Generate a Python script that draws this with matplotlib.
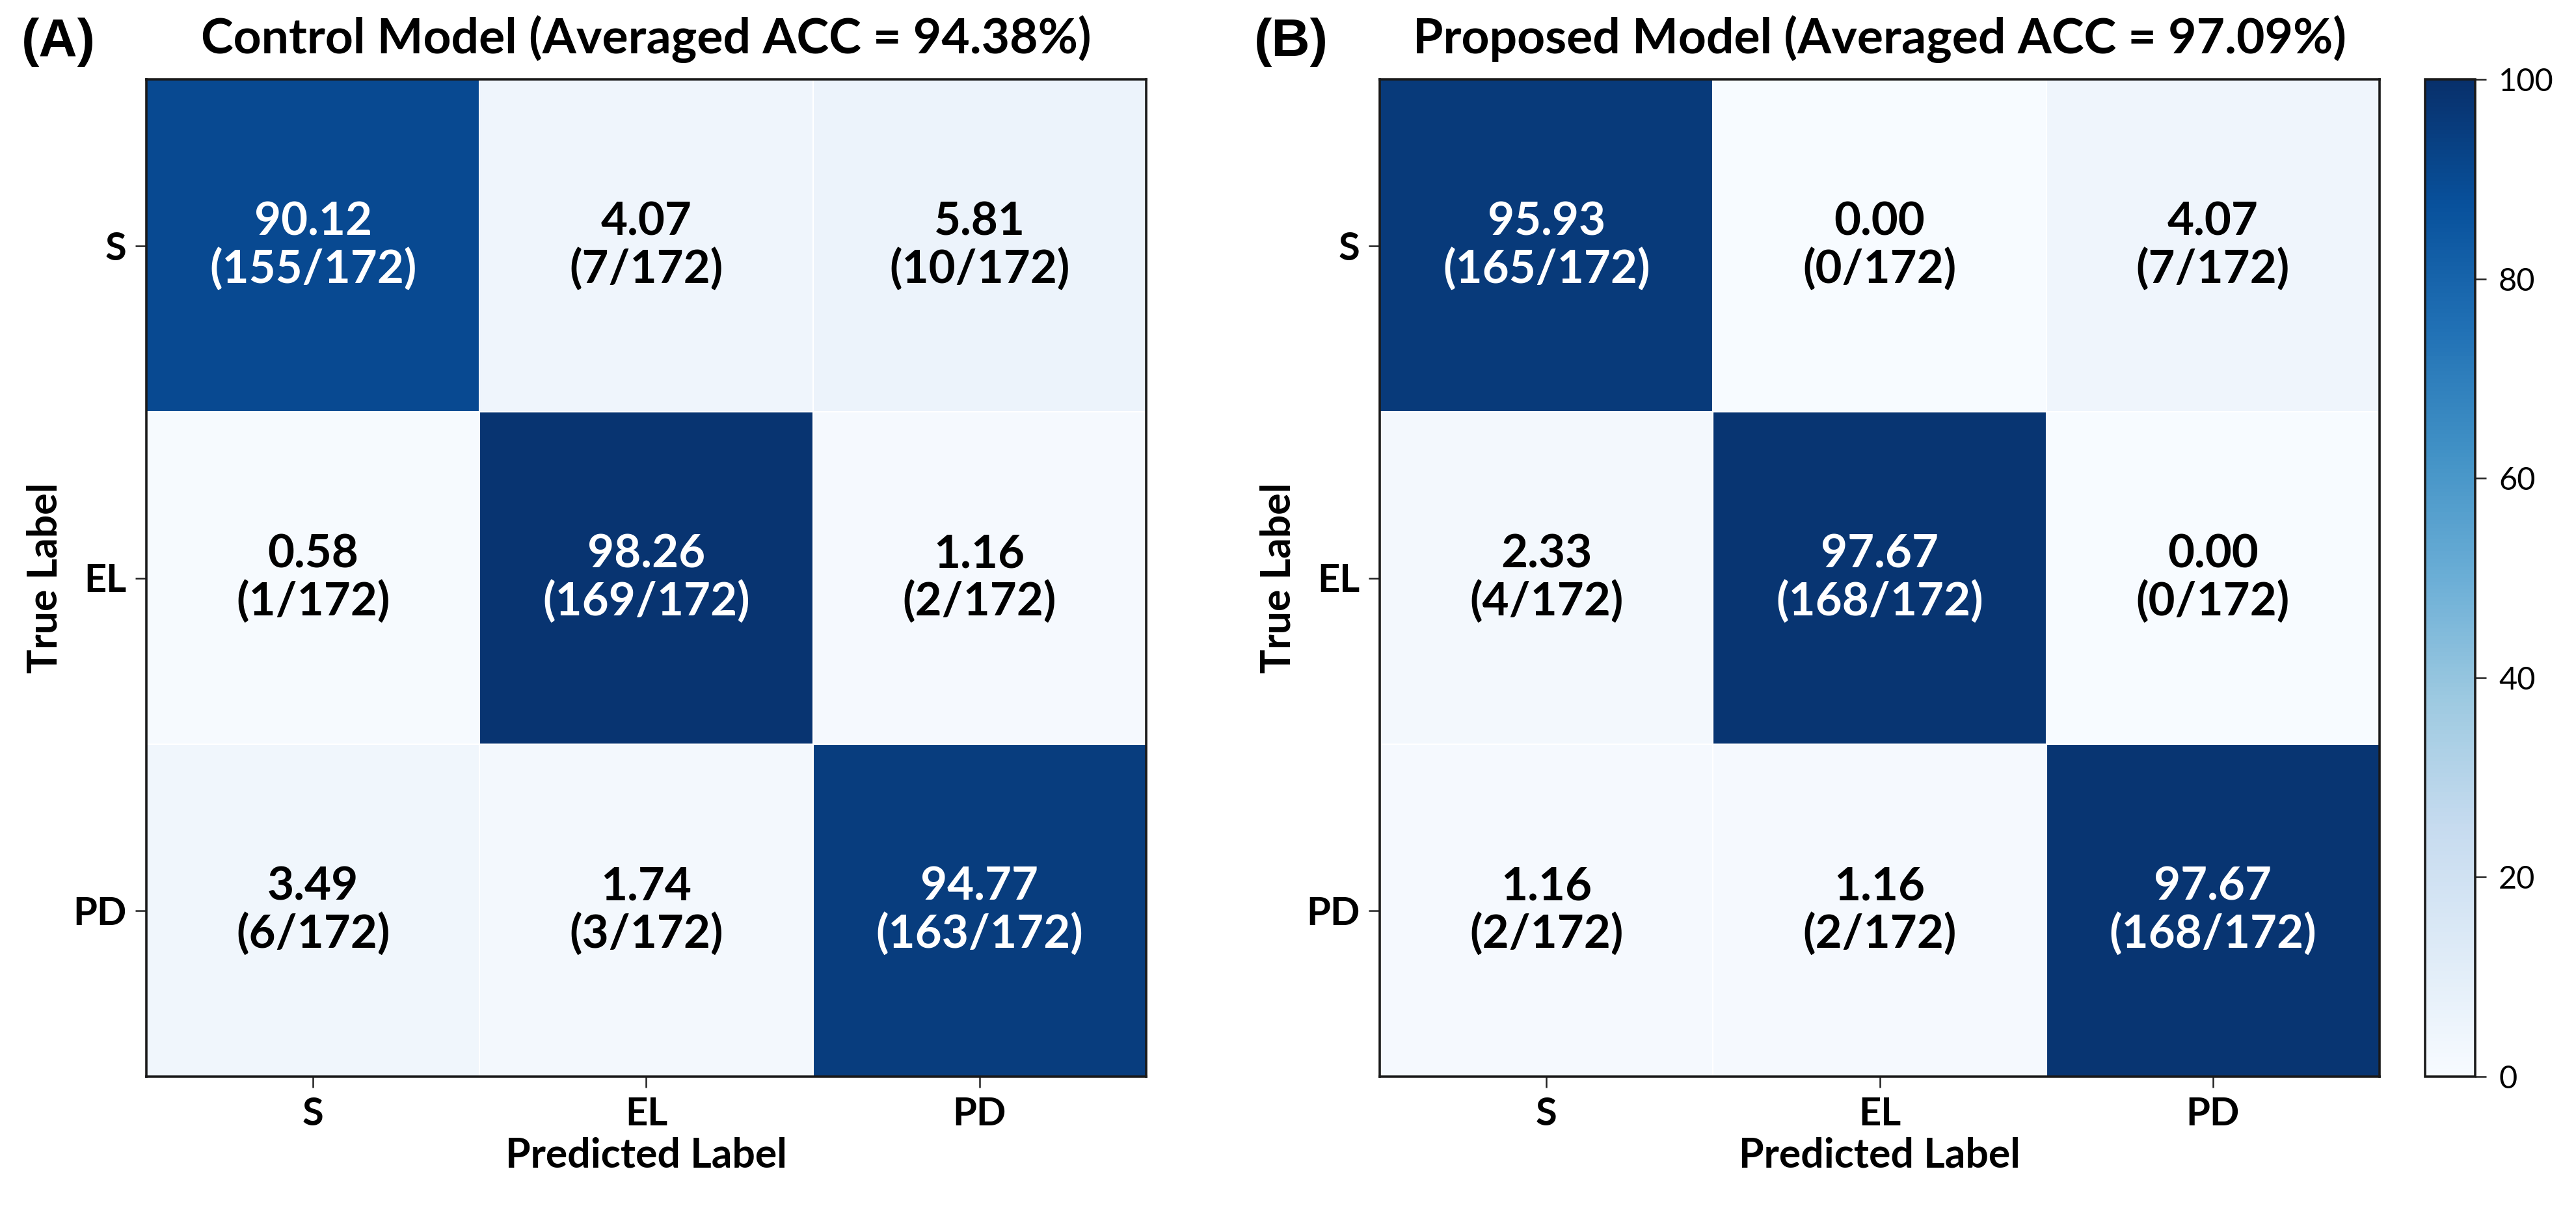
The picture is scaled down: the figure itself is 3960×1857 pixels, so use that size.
import numpy as np
import matplotlib
matplotlib.use("Agg")
import matplotlib.pyplot as plt

plt.rcParams['font.family'] = ['Lato', 'DejaVu Sans']

# Klassen und Werte
classes = ["S", "EL", "PD"]
total = 172

control_pct = [[90.12, 4.07, 5.81],
               [0.58, 98.26, 1.16],
               [3.49, 1.74, 94.77]]
control_cnt = [[155, 7, 10],
               [1, 169, 2],
               [6, 3, 163]]

proposed_pct = [[95.93, 0.00, 4.07],
                [2.33, 97.67, 0.00],
                [1.16, 1.16, 97.67]]
proposed_cnt = [[165, 0, 7],
                [4, 168, 0],
                [2, 2, 168]]

titles = ["Control Model (Averaged ACC = 94.38%)",
          "Proposed Model (Averaged ACC = 97.09%)"]
panel_tags = ["(A)", "(B)"]
cbar_ticks = [0, 20, 40, 60, 80, 100]

W, H = 3960, 1857
fig = plt.figure(figsize=(W / 100, H / 100), dpi=100)


def px_box(x0, y0, w, h):
    # Pixel-Box (oben links) -> Figurenkoordinaten
    return [x0 / W, 1 - (y0 + h) / H, w / W, h / H]


ax1 = fig.add_axes(px_box(225, 122, 1537, 1533))
ax2 = fig.add_axes(px_box(2121, 122, 1537, 1533))
cax = fig.add_axes(px_box(3728, 122, 77, 1533))


def draw_cm(ax, pct, cnt, title):
    pct = np.array(pct)
    im = ax.imshow(pct, cmap="Blues", vmin=0, vmax=100, aspect="auto")
    n = len(classes)
    # weiße Trennlinien zwischen den Zellen
    for k in range(1, n):
        ax.axhline(k - 0.5, color="white", lw=1.5)
        ax.axvline(k - 0.5, color="white", lw=1.5)
    for i in range(n):
        for j in range(n):
            col = "white" if pct[i, j] > 50 else "black"
            ax.text(j, i, f"{pct[i, j]:.2f}\n({cnt[i][j]}/{total})",
                    ha="center", va="center", color=col,
                    fontsize=51, fontweight="bold", linespacing=1.12)
    ax.set_xticks(range(n))
    ax.set_yticks(range(n))
    ax.set_xticklabels(classes, fontsize=43, fontweight="bold")
    ax.set_yticklabels(classes, fontsize=43, fontweight="bold")
    ax.tick_params(length=12, width=1.8, pad=10, color="#222222")
    ax.set_xlabel("Predicted Label", fontsize=45, fontweight="bold", labelpad=6)
    ax.set_ylabel("True Label", fontsize=45, fontweight="bold", labelpad=10)
    ax.set_title(title, fontsize=54, fontweight="bold", pad=29)
    for s in ax.spines.values():
        s.set_linewidth(2.6)
        s.set_color("#1a1a1a")
    return im


im = draw_cm(ax1, control_pct, control_cnt, titles[0])
draw_cm(ax2, proposed_pct, proposed_cnt, titles[1])

cb = fig.colorbar(im, cax=cax, ticks=cbar_ticks)
cb.outline.set_linewidth(2.6)
cb.outline.set_edgecolor("#1a1a1a")
cax.tick_params(length=12, width=1.8, pad=14, labelsize=35, color="#222222")

fig.text(33 / W, 1 - 86 / H, panel_tags[0], fontsize=59, fontweight="bold",
         family=["Liberation Sans", "DejaVu Sans"], va="baseline", ha="left")
fig.text(1928 / W, 1 - 86 / H, panel_tags[1], fontsize=59, fontweight="bold",
         family=["Liberation Sans", "DejaVu Sans"], va="baseline", ha="left")

fig.savefig("out.png", dpi=100)
